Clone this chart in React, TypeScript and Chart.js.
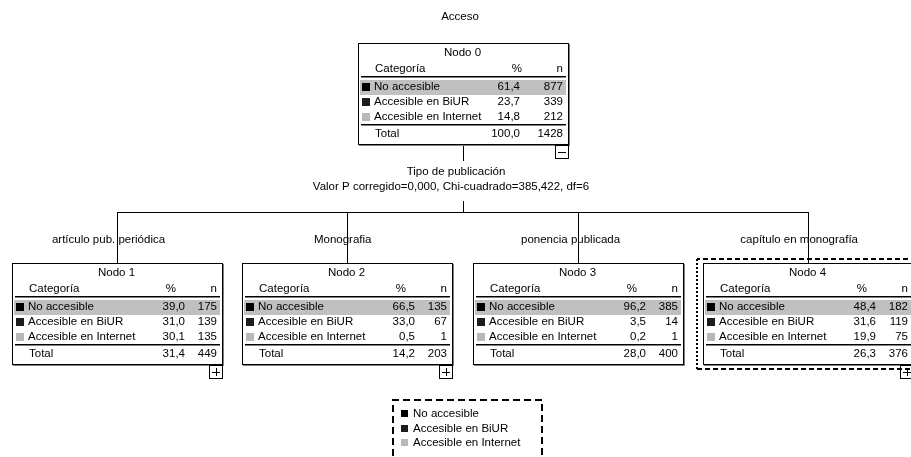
import React, { useEffect, useRef } from 'react';
import { Chart, registerables } from 'chart.js';

Chart.register(...registerables);

// ---------- data ----------
const chartTitle = 'Acceso';
const categories = ['No accesible', 'Accesible en BiUR', 'Accesible en Internet'];
const nodeNames = ['Nodo 0', 'Nodo 1', 'Nodo 2', 'Nodo 3', 'Nodo 4'];
const nodePercents = [
  [61.4, 23.7, 14.8],
  [39.0, 31.0, 30.1],
  [66.5, 33.0, 0.5],
  [96.2, 3.5, 0.2],
  [48.4, 31.6, 19.9],
];
const nodeCounts = [
  [877, 339, 212],
  [175, 139, 135],
  [135, 67, 1],
  [385, 14, 1],
  [182, 119, 75],
];
const totalPercents = [100.0, 31.4, 14.2, 28.0, 26.3];
const totalCounts = [1428, 449, 203, 400, 376];
const branchLabels = ['artículo pub. periódica', 'Monografia', 'ponencia publicada', 'capítulo en monografía'];
const splitVariable = 'Tipo de publicación';
const splitStatistics = 'Valor P corregido=0,000, Chi-cuadrado=385,422, df=6';
const headerLabels = ['Categoría', '%', 'n'];
const totalLabel = 'Total';

// ---------- layout & style ----------
const CANVAS_W = 911;
const CANVAS_H = 457;
const FONT = '11.5px "Liberation Sans", Arial, sans-serif';
const NODE_W = 211;
const NODE_H = 102;
const nodeLeft = [358, 12, 242, 473, 703];
const nodeTop = [43, 263, 263, 263, 263];
const pctColumn = [162, 173, 173, 173, 173];
const expander = ['-', '+', '+', '', '+'];
const selectedNode = 4;
const categoryColors = ['#000000', '#1c1c1c', '#b8b8b8'];
const highlightColor = '#c0c0c0';
const shadowColor = '#808080';

const fmtPct = (v: number) => v.toFixed(1).replace('.', ',');

const treePlugin = {
  id: 'treePlugin',
  beforeDraw(chart: any) {
    const ctx = chart.ctx;
    ctx.save();
    ctx.fillStyle = '#ffffff';
    ctx.fillRect(0, 0, chart.width, chart.height);
    ctx.restore();
  },
  afterDraw(chart: any) {
    const ctx: CanvasRenderingContext2D = chart.ctx;
    const sx = chart.scales.x;
    const sy = chart.scales.y;
    const X = (v: number) => sx.getPixelForValue(v);
    const Y = (v: number) => sy.getPixelForValue(v);
    const rect = (x: number, y: number, w: number, h: number, color: string) => {
      const x0 = Math.round(X(x));
      const y0 = Math.round(Y(y));
      ctx.fillStyle = color;
      ctx.fillRect(x0, y0, Math.round(X(x + w)) - x0, Math.round(Y(y + h)) - y0);
    };
    const text = (s: string, x: number, y: number, align: CanvasTextAlign) => {
      ctx.fillStyle = '#000000';
      ctx.textAlign = align;
      ctx.fillText(s, X(x), Y(y));
    };
    const dashed = (pts: number[][], dash: number[]) => {
      ctx.save();
      ctx.strokeStyle = '#000000';
      ctx.lineWidth = 2;
      ctx.setLineDash(dash);
      ctx.beginPath();
      ctx.moveTo(X(pts[0][0]), Y(pts[0][1]));
      for (let i = 1; i < pts.length; i++) ctx.lineTo(X(pts[i][0]), Y(pts[i][1]));
      ctx.stroke();
      ctx.restore();
    };

    ctx.save();
    ctx.font = FONT;
    ctx.textBaseline = 'middle';

    // title
    text(chartTitle, 460, 17, 'center');

    // connectors
    const rootCx = nodeLeft[0] + Math.floor(NODE_W / 2);
    rect(rootCx, nodeTop[0] + NODE_H, 1, 16, '#000');
    text(splitVariable, 456, 172, 'center');
    text(splitStatistics, 451, 187, 'center');
    rect(rootCx, 201, 1, 12, '#000');
    const childCx = [1, 2, 3, 4].map((i) => nodeLeft[i] + Math.floor(NODE_W / 2));
    rect(childCx[0], 212, childCx[3] - childCx[0] + 1, 1, '#000');
    childCx.forEach((cx, i) => {
      rect(cx, 212, 1, nodeTop[i + 1] - 212, '#000');
      const w = ctx.measureText(branchLabels[i]).width;
      text(branchLabels[i], cx - 0.075 * w, 240, 'center');
    });

    // nodes
    nodeNames.forEach((name, i) => {
      const L = nodeLeft[i];
      const T = nodeTop[i];
      const W = NODE_W;
      const H = NODE_H;
      rect(L, T, W, H, '#ffffff');
      // border + shadow
      rect(L, T, W, 1, '#000');
      rect(L, T + H - 1, W, 1, '#000');
      rect(L, T, 1, H, '#000');
      rect(L + W - 1, T, 1, H, '#000');
      rect(L + W, T + 1, 1, H, shadowColor);
      rect(L + 1, T + H, W, 1, shadowColor);

      text(name, L + W / 2 - 1, T + 10, 'center');
      text(headerLabels[0], L + 17, T + 26, 'left');
      text(headerLabels[1], L + 164, T + 26, 'right');
      text(headerLabels[2], L + 205, T + 26, 'right');
      rect(L + 3, T + 33, W - 6, 1, '#000');
      rect(L + 3, T + 34, W - 6, 1, shadowColor);

      rect(L + 2, T + 37, W - 5, 15, highlightColor);
      categories.forEach((cat, r) => {
        const ry = T + 44 + r * 15;
        rect(L + 4, ry - 4, 8, 8, categoryColors[r]);
        text(cat, L + 16, ry, 'left');
        text(fmtPct(nodePercents[i][r]), L + pctColumn[i], ry, 'right');
        text(String(nodeCounts[i][r]), L + 205, ry, 'right');
      });
      rect(L + 3, T + 81, W - 6, 1, '#000');
      rect(L + 3, T + 82, W - 6, 1, shadowColor);
      text(totalLabel, L + 17, T + 91, 'left');
      text(fmtPct(totalPercents[i]), L + pctColumn[i], T + 91, 'right');
      text(String(totalCounts[i]), L + 205, T + 91, 'right');

      // expander
      if (expander[i]) {
        const ex = L + W - 14;
        const ey = T + H;
        rect(ex, ey, 14, 14, '#000');
        rect(ex + 1, ey + 1, 12, 12, '#fff');
        rect(ex + 3, ey + 7, 8, 1, '#000');
        if (expander[i] === '+') rect(ex + 7, ey + 3, 1, 8, '#000');
      }
    });

    // selection outline for node
    const sL = nodeLeft[selectedNode] - 6;
    const sT = nodeTop[selectedNode] - 4;
    const sB = nodeTop[selectedNode] + NODE_H + 4;
    dashed([[CANVAS_W + 5, sT], [sL, sT]], [5, 3]);
    dashed([[sL, sT], [sL, sB]], [2, 2]);
    dashed([[sL, sB], [CANVAS_W + 5, sB]], [5, 3]);

    // legend
    const lgL = 393;
    const lgR = 542;
    const lgT = 400;
    dashed([[lgL, CANVAS_H + 10], [lgL, lgT], [lgR, lgT], [lgR, CANVAS_H + 10]], [7, 4]);
    categories.forEach((cat, r) => {
      const ry = 414 + r * 14.5;
      rect(401, ry - 4, 7, 7, categoryColors[r]);
      text(cat, 413, ry, 'left');
    });

    ctx.restore();
  },
};

export default function App() {
  const ref = useRef<HTMLCanvasElement | null>(null);
  useEffect(() => {
    document.body.style.margin = '0';
    const canvas = ref.current;
    if (!canvas) return;
    const chart = new Chart(canvas, {
      type: 'scatter',
      data: { datasets: [] },
      options: {
        responsive: false,
        animation: false,
        devicePixelRatio: 1,
        layout: { padding: 0 },
        plugins: { legend: { display: false }, tooltip: { enabled: false }, title: { display: false } },
        scales: {
          x: { type: 'linear', min: 0, max: CANVAS_W, display: false },
          y: { type: 'linear', min: 0, max: CANVAS_H, reverse: true, display: false },
        },
      },
      plugins: [treePlugin],
    });
    return () => chart.destroy();
  }, []);
  return (
    <div style={{ width: CANVAS_W, height: CANVAS_H, background: '#fff' }}>
      <canvas ref={ref} width={CANVAS_W} height={CANVAS_H} style={{ display: 'block' }} />
    </div>
  );
}
